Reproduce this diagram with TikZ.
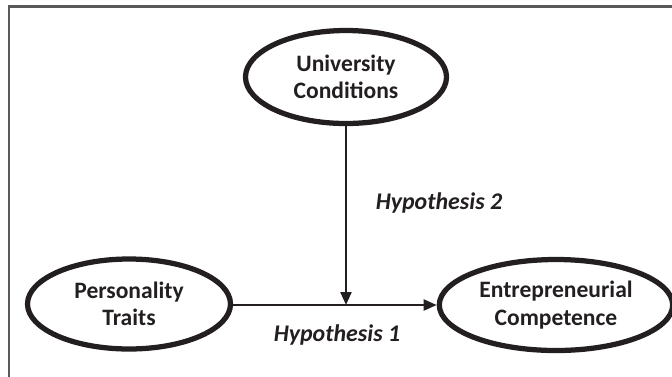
\documentclass[tikz,border=0pt]{standalone}
\usepackage{fontspec}
\setmainfont{Carlito}
\usepackage{tikz}
\usetikzlibrary{shapes.geometric,arrows.meta}
\definecolor{ink}{HTML}{231F20}

\begin{document}
\begin{tikzpicture}
\tikzstyle{oval}=[ellipse,draw=ink,line width=0.105cm,align=center,text=ink,font=\fontsize{13.4}{15.5}\selectfont\bfseries]
\tikzstyle{link}=[-{Triangle[length=0.26cm,width=0.22cm]},line width=0.045cm,ink]
\tikzstyle{hyp}=[text=ink,font=\fontsize{13.6}{16}\selectfont\bfseries\itshape]

\useasboundingbox (0,0) rectangle (13.44,-7.52);
\clip (0,0) rectangle (13.44,-7.52);
\draw[black!65,line width=0.045cm] (0.18,-7.8) -- (0.18,-0.13) -- (13.7,-0.13);

\node[oval,minimum width=4.02cm,minimum height=1.86cm] (uc) at (6.92,-1.54) {University\\Conditions};
\node[oval,minimum width=4.06cm,minimum height=1.8cm] (pt) at (2.58,-6.08) {Personality\\Traits};
\node[oval,minimum width=4.16cm,minimum height=1.82cm] (ec) at (11.12,-6.1) {Entrepreneurial\\Competence};
\coordinate (mid) at (uc.south |- ec.west);

\draw[link] (pt.east |- ec.west) -- (ec.west);
\draw[link] (uc.south) -- (mid);

\node[hyp] (h1) at (6.74,-6.7) {Hypothesis 1};
\node[hyp] (h2) at (8.78,-4.06) {Hypothesis 2};
\end{tikzpicture}
\end{document}
